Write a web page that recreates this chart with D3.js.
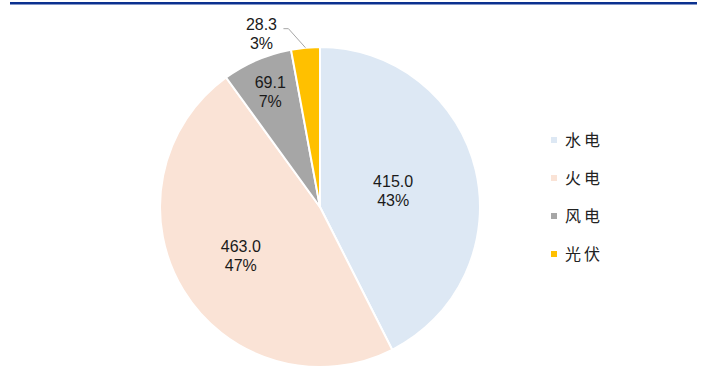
<!DOCTYPE html>
<html>
<head>
<meta charset="utf-8">
<script src="https://cdn.jsdelivr.net/npm/d3@7/dist/d3.min.js"></script>
<style>
  html, body { margin: 0; padding: 0; background: #fff; }
  svg { display: block; }
</style>
</head>
<body>
<svg id="chart" width="708" height="383"></svg>
<script>
// Installed capacity by source (values and shares)
const categories = ["水电", "火电", "风电", "光伏"];
const values = [415.0, 463.0, 69.1, 28.3];
const shares = ["43%", "47%", "7%", "3%"];
const colors = ["#DDE8F4", "#FAE3D6", "#A6A6A6", "#FFC000"];

const svg = d3.select("#chart");
const cx = 320, cy = 207, R = 160;

// Header rule
svg.append("line")
  .attr("x1", 10).attr("x2", 697)
  .attr("y1", 3.2).attr("y2", 3.2)
  .attr("stroke", "#0B318F").attr("stroke-width", 2.4);

const pie = d3.pie().sort(null).value(d => d);
const arcs = pie(values);
const arc = d3.arc().innerRadius(0).outerRadius(R);

const g = svg.append("g").attr("transform", `translate(${cx},${cy})`);

g.selectAll("path.slice")
  .data(arcs)
  .enter().append("path")
  .attr("class", "slice")
  .attr("d", arc)
  .attr("fill", (d, i) => colors[i])
  .attr("stroke", "#fff")
  .attr("stroke-width", 2)
  .attr("stroke-linejoin", "round");

// Label distance from centre, as a fraction of the radius
const labelFrac = [0.47, 0.58, 0.79];
const fontNum = "'Liberation Sans', Arial, sans-serif";

arcs.forEach((d, i) => {
  const mid = (d.startAngle + d.endAngle) / 2;
  let x, y;
  if (i < 3) {
    [x, y] = d3.pointRadial(mid, R * labelFrac[i]);
  } else {
    // Small slice: label outside with a leader line
    const p0 = d3.pointRadial(mid, R);
    const p1 = [p0[0] - 17, p0[1] - 19];
    const p2 = [p1[0] - 5, p1[1]];
    g.append("polyline")
      .attr("points", [p0, p1, p2].map(p => p.join(",")).join(" "))
      .attr("fill", "none")
      .attr("stroke", "#A6A6A6")
      .attr("stroke-width", 1);
    x = p2[0] - 22;
    y = p2[1] + 4;
  }
  const t = g.append("text")
    .attr("text-anchor", "middle")
    .attr("font-family", fontNum)
    .attr("font-size", 16)
    .attr("fill", "#1a1a1a");
  t.append("tspan").attr("x", x).attr("y", y - 3).text(values[i].toFixed(1));
  t.append("tspan").attr("x", x).attr("y", y + 16).text(shares[i]);
});

// Legend
const legend = svg.append("g").attr("transform", "translate(551,0)");
categories.forEach((c, i) => {
  const yc = 140 + i * 38;
  legend.append("rect")
    .attr("x", 0).attr("y", yc - 3)
    .attr("width", 6).attr("height", 6)
    .attr("fill", colors[i]);
  legend.append("text")
    .attr("x", 14).attr("y", yc + 6)
    .attr("font-family", "'Noto Sans CJK SC', sans-serif")
    .attr("font-size", 16)
    .attr("letter-spacing", 3)
    .attr("fill", "#222")
    .text(c);
});
</script>
</body>
</html>
